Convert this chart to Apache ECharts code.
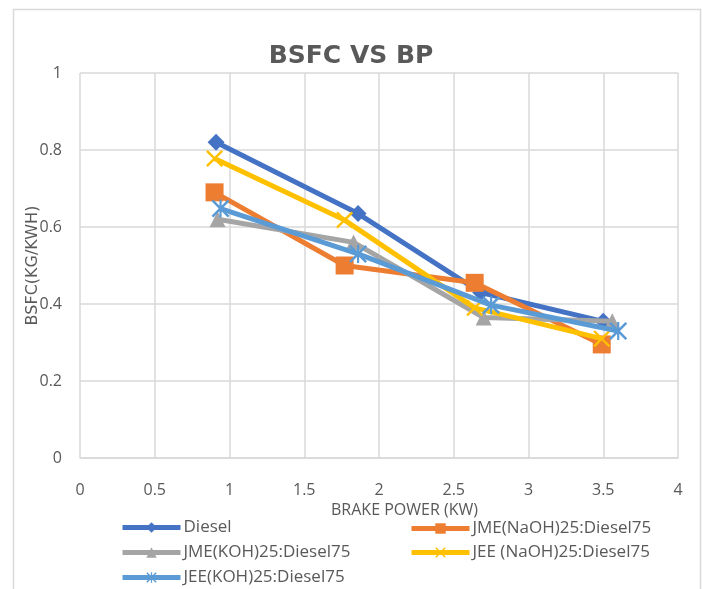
<!DOCTYPE html>
<html>
<head>
<meta charset="utf-8">
<title>BSFC VS BP</title>
<script src="https://cdn.jsdelivr.net/npm/echarts@6.0.0/dist/echarts.min.js"></script>
<style>
  html, body { margin: 0; padding: 0; background: #ffffff; }
  #chart { width: 702px; height: 589px; }
</style>
</head>
<body>
<div id="chart"></div>
<script>
// Brake power (kW) and BSFC (kg/kWh) for each fuel blend
const seriesNames = [
  'Diesel',
  'JME(NaOH)25:Diesel75',
  'JME(KOH)25:Diesel75',
  'JEE (NaOH)25:Diesel75',
  'JEE(KOH)25:Diesel75'
];
const bpDiesel      = [0.91, 1.86, 2.68, 3.50];
const bsfcDiesel    = [0.82, 0.635, 0.43, 0.355];
const bpJmeNaoh     = [0.90, 1.77, 2.64, 3.49];
const bsfcJmeNaoh   = [0.69, 0.50, 0.455, 0.295];
const bpJmeKoh      = [0.92, 1.83, 2.70, 3.56];
const bsfcJmeKoh    = [0.62, 0.56, 0.365, 0.355];
const bpJeeNaoh     = [0.90, 1.77, 2.64, 3.49];
const bsfcJeeNaoh   = [0.778, 0.618, 0.39, 0.31];
const bpJeeKoh      = [0.94, 1.86, 2.75, 3.60];
const bsfcJeeKoh    = [0.648, 0.53, 0.397, 0.33];

const xTicks = [0, 0.5, 1, 1.5, 2, 2.5, 3, 3.5, 4];
const yTicks = [0, 0.2, 0.4, 0.6, 0.8, 1];

const colors = ['#4472C4', '#ED7D31', '#A5A5A5', '#FFC000', '#5B9BD5'];

// marker shapes: diamond, square, triangle, cross, asterisk
const crossPath = 'path://M0,1 L1,0 L5,4 L9,0 L10,1 L6,5 L10,9 L9,10 L5,6 L1,10 L0,9 L4,5 Z';
const starPath = 'path://M0,1 L1,0 L5,4 L9,0 L10,1 L6,5 L10,9 L9,10 L5,6 L1,10 L0,9 L4,5 Z M4.4,0 L5.6,0 L5.6,10 L4.4,10 Z';
const symbols = ['diamond', 'rect', 'triangle', crossPath, starPath];
const symbolSizes = [17, 18, 16, 17, 18];

const xs = [bpDiesel, bpJmeNaoh, bpJmeKoh, bpJeeNaoh, bpJeeKoh];
const ys = [bsfcDiesel, bsfcJmeNaoh, bsfcJmeKoh, bsfcJeeNaoh, bsfcJeeKoh];

const font = "'Open Sans', 'Noto Sans', sans-serif";
const wideFont = "'DejaVu Sans', sans-serif";
const textGray = '#595959';
const gridGray = '#d9d9d9';

const series = seriesNames.map((name, i) => ({
  name: name,
  type: 'line',
  data: xs[i].map((x, k) => [x, ys[i][k]]),
  symbol: symbols[i],
  symbolSize: symbolSizes[i],
  lineStyle: { color: colors[i], width: 5 },
  itemStyle: { color: colors[i] },
  z: 2 + i
}));

// one legend per entry so the columns line up
const legendSpots = [
  { left: 120, top: 519 },
  { left: 409, top: 520 },
  { left: 120, top: 544 },
  { left: 409, top: 544 },
  { left: 120, top: 569 }
];
const legends = seriesNames.map((name, i) => ({
  data: [name],
  left: legendSpots[i].left,
  top: legendSpots[i].top,
  itemWidth: 58,
  itemHeight: 13,
  itemGap: 4,
  padding: 0,
  lineStyle: { width: 5 },
  textStyle: { color: textGray, fontSize: 17, fontFamily: font, padding: [0, 0, 0, -2] }
}));

const chart = echarts.init(document.getElementById('chart'), null, { renderer: 'canvas' });
chart.setOption({
  animation: false,
  backgroundColor: '#ffffff',
  title: {
    text: 'BSFC VS BP',
    left: 'center',
    top: 39,
    textStyle: {
      color: textGray,
      fontSize: 25,
      fontWeight: 'bold',
      fontFamily: wideFont
    }
  },
  legend: legends,
  grid: { left: 80, right: 24, top: 73, bottom: 131, containLabel: false },
  xAxis: {
    type: 'value',
    min: xTicks[0],
    max: xTicks[xTicks.length - 1],
    interval: 0.5,
    axisLine: { show: true, lineStyle: { color: gridGray, width: 1.5 } },
    axisTick: { show: false },
    splitLine: { show: true, lineStyle: { color: gridGray, width: 1.5 } },
    axisLabel: { color: textGray, fontSize: 16, fontFamily: font, margin: 24 }
  },
  yAxis: {
    type: 'value',
    min: yTicks[0],
    max: yTicks[yTicks.length - 1],
    interval: 0.2,
    name: 'BSFC(KG/KWH)',
    nameLocation: 'middle',
    nameGap: 39,
    nameMoveOverlap: false,
    nameTextStyle: { color: textGray, fontSize: 16, fontFamily: wideFont },
    axisLine: { show: false },
    axisTick: { show: false },
    splitLine: { show: true, lineStyle: { color: gridGray, width: 1.5 } },
    axisLabel: { color: textGray, fontSize: 16, fontFamily: font, margin: 18 }
  },
  graphic: [
    {
      type: 'rect',
      shape: { x: 13.5, y: 9.5, width: 687, height: 600 },
      style: { fill: 'none', stroke: gridGray, lineWidth: 1.5 },
      silent: true,
      z: -10
    },
    {
      type: 'text',
      left: 331,
      top: 502,
      style: {
        text: 'BRAKE POWER (KW)',
        fill: textGray,
        font: "16px 'Open Sans', sans-serif"
      },
      z: 10
    }
  ],
  series: series
});
</script>
</body>
</html>
